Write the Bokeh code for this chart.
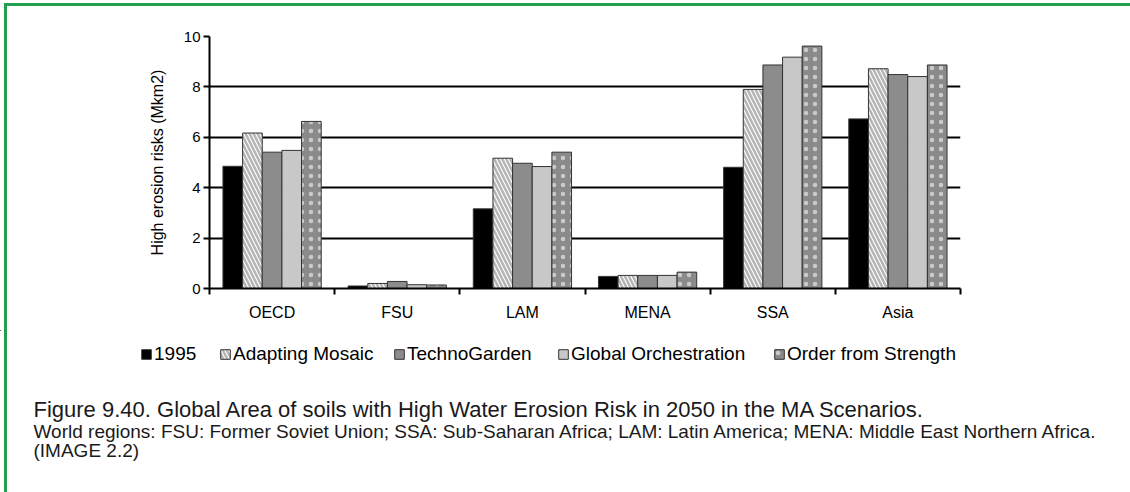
import numpy as np
from bokeh.plotting import figure
from bokeh.layouts import column
from bokeh.models import Range1d, FixedTicker, Legend, LegendItem, Label
from bokeh.embed import file_html
from bokeh.resources import INLINE

# ---------------- data ----------------
regions = ["OECD", "FSU", "LAM", "MENA", "SSA", "Asia"]
series = ["1995", "Adapting Mosaic", "TechnoGarden", "Global Orchestration", "Order from Strength"]
v1995 = [4.85, 0.10, 3.16, 0.48, 4.81, 6.73]
v_adapting = [6.17, 0.20, 5.17, 0.52, 7.90, 8.72]
v_techno = [5.41, 0.28, 4.97, 0.52, 8.87, 8.49]
v_global = [5.48, 0.15, 4.84, 0.52, 9.18, 8.41]
v_order = [6.63, 0.14, 5.41, 0.65, 9.62, 8.87]
y_ticks = [0, 2, 4, 6, 8, 10]
y_label = "High erosion risks (Mkm2)"
caption1 = "Figure 9.40. Global Area of soils with High Water Erosion Risk in 2050 in the MA Scenarios."
caption2 = ("World regions: FSU: Former Soviet Union; SSA: Sub-Saharan Africa; "
            "LAM: Latin America; MENA: Middle East Northern Africa.")
caption3 = "(IMAGE 2.2)"

values = [v1995, v_adapting, v_techno, v_global, v_order]

FONT = "Liberation Sans"
W = 1130
H_CHART = 330
H_BOTTOM = 162

# ---------------- chart ----------------
p = figure(width=W, height=H_CHART, x_range=Range1d(0, len(regions)), y_range=Range1d(0, 10),
           output_backend="svg", toolbar_location=None,
           min_border_left=209, min_border_right=170, min_border_top=36, min_border_bottom=42)
p.frame_align = False
p.outline_line_color = None
p.background_fill_color = "white"
p.border_fill_alpha = 0
p.xgrid.visible = False
p.ygrid.grid_line_color = "black"
p.ygrid.grid_line_width = 2
p.ygrid.ticker = FixedTicker(ticks=y_ticks)

centers = np.arange(len(regions)) + 0.5
bw = 0.157
offsets = [(-2 + i) * bw for i in range(5)]

styles = [
    dict(fill_color="black"),
    dict(fill_color="white", hatch_pattern="\\", hatch_color="#b4b4b4", hatch_weight=2.5, hatch_scale=8),
    dict(fill_color="#8c8c8c"),
    dict(fill_color="#c8c8c8"),
    dict(fill_color="#8a8a8a", hatch_pattern=".", hatch_color="white", hatch_alpha=0.55,
         hatch_weight=0.5, hatch_scale=9),
]

renderers = []
for vals, off, st in zip(values, offsets, styles):
    r = p.vbar(x=centers + off, top=vals, bottom=0, width=bw, line_color="#333333", line_width=1, **st)
    renderers.append(r)

# x axis: labels at category centres, ticks between categories
p.xaxis.ticker = FixedTicker(ticks=list(centers), minor_ticks=list(range(len(regions) + 1)))
p.xaxis.major_label_overrides = {float(c): name for c, name in zip(centers, regions)}
p.xaxis.major_tick_out = 0
p.xaxis.major_tick_in = 0
p.xaxis.minor_tick_out = 6
p.xaxis.minor_tick_in = 0
p.xaxis.minor_tick_line_color = "black"
p.xaxis.minor_tick_line_width = 2
p.xaxis.axis_line_color = "black"
p.xaxis.axis_line_width = 2
p.xaxis.major_label_standoff = 9
p.xaxis.major_label_text_font = FONT
p.xaxis.major_label_text_font_size = "16px"
p.xaxis.major_label_text_color = "black"

# y axis
p.yaxis.ticker = FixedTicker(ticks=y_ticks)
p.yaxis.major_tick_out = 6
p.yaxis.major_tick_in = 0
p.yaxis.major_tick_line_width = 2
p.yaxis.major_tick_line_color = "black"
p.yaxis.minor_tick_line_color = None
p.yaxis.axis_line_color = "black"
p.yaxis.axis_line_width = 2
p.yaxis.major_label_standoff = 3
p.yaxis.major_label_text_font = FONT
p.yaxis.major_label_text_font_size = "15px"
p.yaxis.major_label_text_color = "black"
p.yaxis.axis_label = y_label
p.yaxis.axis_label_text_font = FONT
p.yaxis.axis_label_text_font_size = "16px"
p.yaxis.axis_label_text_font_style = "normal"
p.yaxis.axis_label_text_color = "black"
p.yaxis.axis_label_standoff = 15

# ---------------- legend + caption panel ----------------
q = figure(width=W, height=H_BOTTOM, x_range=Range1d(0, W), y_range=Range1d(H_CHART + H_BOTTOM, H_CHART),
           output_backend="svg", toolbar_location=None, x_axis_type=None, y_axis_type=None,
           min_border_left=0, min_border_right=0, min_border_top=0, min_border_bottom=0)
q.frame_align = False
q.outline_line_color = None
q.background_fill_alpha = 0
q.border_fill_alpha = 0
q.xgrid.visible = False
q.ygrid.visible = False

# swatch renderers for the legend (placed far outside the visible range)
swatches = []
for st in styles:
    swatches.append(q.vbar(x=[-5000], top=[-5000], bottom=[-5001], width=1,
                           line_color="#333333", line_width=1, **st))

leg_x = [140, 219, 393, 557, 773]
for name, r, lx in zip(series, swatches, leg_x):
    leg = Legend(items=[LegendItem(label=name, renderers=[r])], location=(lx, 127),
                 orientation="horizontal", padding=0, margin=0, spacing=0,
                 border_line_color=None, background_fill_alpha=0,
                 glyph_width=12, glyph_height=12, label_standoff=2,
                 label_text_font=FONT, label_text_font_size="19px", label_text_color="black",
                 label_height=20, label_width=10)
    q.add_layout(leg)

for txt, yy, sz in [(caption1, 409, "22px"), (caption2, 431, "19px"), (caption3, 450, "19px")]:
    q.add_layout(Label(x=33, y=yy, text=txt, text_font=FONT, text_font_size=sz,
                       text_baseline="middle", text_color="#1a1a1a"))

green = "#23a04f"
layout = column(p, q, spacing=0, styles={
    "background": (f"linear-gradient({green},{green}) 4px 3px / 1126px 3px no-repeat, "
                   f"linear-gradient({green},{green}) 4px 3px / 3px 489px no-repeat, white")
})

open("out.html", "w").write(file_html(layout, INLINE))
